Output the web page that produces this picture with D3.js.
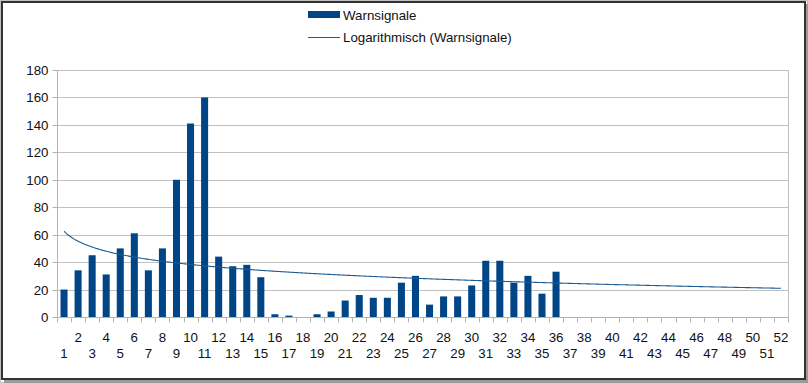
<!DOCTYPE html>
<html><head><meta charset="utf-8">
<script src="https://cdn.jsdelivr.net/npm/d3@7"></script>
<style>
html,body{margin:0;padding:0;background:#fff;}
svg{display:block;font-family:"Liberation Sans",Arial,sans-serif;}
</style></head>
<body>
<svg id="c" width="808" height="383"></svg>
<script>
const categories = d3.range(1, 53).map(String);
const warnsignale = [20,34,45,31,50,61,34,50,100,141,160,44,37,38,29,2,1,0,2,4,12,16,14,14,25,30,9,15,15,23,41,41,25,30,17,33];
const yTicks = [0,20,40,60,80,100,120,140,160,180];
const seriesName = "Warnsignale";
const trendName = "Logarithmisch (Warnsignale)";

(function(){
const svg = d3.select("#c");
const W = 808, H = 383;
const pL = 57, pR = 788, pT = 70, pB = 317;
const blue = "#004586", grid = "#c0c0c0", axisCol = "#b3b3b3";
const fs = 13.3;

// frame
svg.append("rect").attr("x",0.5).attr("y",0.5).attr("width",W-1).attr("height",H-1).attr("fill","none").attr("stroke","#c0c0c0");
svg.append("rect").attr("x",803).attr("y",4).attr("width",5).attr("height",H-4).attr("fill","#9a9a9a");
svg.append("rect").attr("x",4).attr("y",378).attr("width",W-4).attr("height",5).attr("fill","#9a9a9a");
svg.append("rect").attr("x",2).attr("y",2).attr("width",803).attr("height",377).attr("fill","#fff").attr("stroke","#333").attr("stroke-width",2);

const x = d3.scaleBand().domain(categories).range([pL, pR]).paddingInner(0.5).paddingOuter(0.25);
const xb = d3.scaleBand().domain(categories).range([pL, pR]);
const y = d3.scaleLinear().domain([0,180]).range([pB, pT]);

// grid
svg.append("g").selectAll("line").data(yTicks.slice(1)).join("line")
  .attr("x1",pL).attr("x2",pR).attr("y1",d=>Math.round(y(d))+0.5).attr("y2",d=>Math.round(y(d))+0.5)
  .attr("stroke",grid);
svg.append("line").attr("x1",pR+0.5).attr("x2",pR+0.5).attr("y1",pT).attr("y2",pB+5).attr("stroke",grid);

// y axis
const ya = d3.axisLeft(y).tickValues(yTicks).tickSize(5).tickPadding(4);
const gy = svg.append("g").attr("transform",`translate(${pL+0.5},0)`).call(ya);
gy.select(".domain").attr("stroke",axisCol).attr("d",`M0,${pT}V${pB+5}`);
gy.selectAll(".tick line").attr("stroke",axisCol);
gy.selectAll(".tick").attr("transform",d=>`translate(0,${Math.round(y(d))+0.5})`);
gy.selectAll("text").attr("font-size",fs).attr("fill","#111").attr("font-family","Liberation Sans, Arial, sans-serif");

// bars
svg.append("g").selectAll("rect").data(warnsignale).join("rect")
  .attr("x",(d,i)=>x(categories[i])).attr("width",x.bandwidth())
  .attr("y",d=>y(d)).attr("height",d=>pB-y(d)).attr("fill",blue);

// x axis
const gx = svg.append("g").attr("transform",`translate(0,${pB+0.5})`);
gx.append("line").attr("x1",pL).attr("x2",pR).attr("stroke",axisCol);
gx.selectAll("line.t").data(categories.concat(["end"])).join("line").attr("class","t")
  .attr("x1",(d,i)=>Math.round(pL + i*xb.step())+0.5).attr("x2",(d,i)=>Math.round(pL + i*xb.step())+0.5)
  .attr("y1",0).attr("y2",5).attr("stroke",axisCol);
gx.selectAll("text").data(categories).join("text")
  .attr("x",d=>xb(d)+xb.bandwidth()/2)
  .attr("y",(d,i)=> i%2===1 ? 24 : 40.5)
  .attr("text-anchor","middle").attr("font-size",fs).attr("fill","#111").text(d=>d);

// logarithmic trend line (least squares fit of y = a + b ln x on the series)
const pts = warnsignale.map((v,i)=>[Math.log(i+1), v]);
const mx = d3.mean(pts,p=>p[0]), my = d3.mean(pts,p=>p[1]);
const b = d3.sum(pts,p=>(p[0]-mx)*(p[1]-my)) / d3.sum(pts,p=>(p[0]-mx)**2);
const a = my - b*mx;
const xc = d => xb(d)+xb.bandwidth()/2;
const trendPts = [];
for (let i=0;i<categories.length-1;i++){
  for (let k=0;k<10;k++){
    const t = i + 1 + k/10;
    trendPts.push([xc(categories[0]) + (t-1)*xb.step(), y(a + b*Math.log(t))]);
  }
}
trendPts.push([xc(categories[51]), y(a + b*Math.log(52))]);
svg.append("path").attr("d",d3.line()(trendPts)).attr("fill","none").attr("stroke","#1d5a93").attr("stroke-width",1.1);

// legend
svg.append("rect").attr("x",308).attr("y",11).attr("width",32).attr("height",7).attr("fill",blue);
svg.append("text").attr("x",343).attr("y",19.5).attr("font-size",fs).attr("fill","#111").text(seriesName);
svg.append("line").attr("x1",308).attr("x2",340).attr("y1",37.5).attr("y2",37.5).attr("stroke","#1d5a93");
svg.append("text").attr("x",343).attr("y",42).attr("font-size",fs).attr("fill","#111").text(trendName);
})();
</script>
</body></html>
